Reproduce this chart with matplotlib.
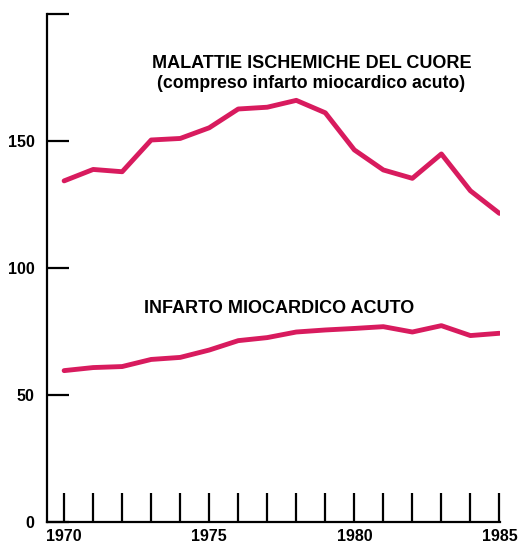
import matplotlib
matplotlib.use("Agg")
import matplotlib.pyplot as plt

years = list(range(1970, 1986))
ischemiche = [134.3, 138.8, 137.9, 150.4, 151.0, 155.2, 162.6, 163.3, 166.0,
              161.1, 146.5, 138.6, 135.3, 144.9, 130.4, 121.5]
infarto = [59.6, 60.8, 61.2, 64.0, 64.8, 67.7, 71.4, 72.6, 74.8,
           75.6, 76.2, 76.9, 74.8, 77.3, 73.4, 74.3]
yticks = [0, 50, 100, 150, 200]
ytick_labels = ["0", "50", "100", "150", ""]
xtick_labels = ["1970", "", "", "", "", "1975", "", "", "", "", "1980", "", "", "", "", "1985"]

plt.rcParams['font.family'] = ['Liberation Sans', 'DejaVu Sans']

fig = plt.figure(figsize=(5.2, 5.46), dpi=100)
ax = fig.add_axes([47/520, 24/546, 453/520, 508/546])

color = "#d81b5e"
ax.plot(years, ischemiche, color=color, lw=3.5, solid_joinstyle='round', solid_capstyle='round')
ax.plot(years, infarto, color=color, lw=3.5, solid_joinstyle='round', solid_capstyle='round')

ax.set_xlim(1969.41, 1985.02)
ax.set_ylim(0, 200)
ax.spines['top'].set_visible(False)
ax.spines['right'].set_visible(False)
for s in ['left', 'bottom']:
    ax.spines[s].set_linewidth(1.6)

ax.set_yticks(yticks)
ax.set_yticklabels(ytick_labels, fontsize=11.5, fontweight='bold')
ax.set_xticks(years)
ax.set_xticklabels(xtick_labels, fontsize=11.5, fontweight='bold')
ax.tick_params(axis='y', direction='in', length=16, width=1.6, pad=9)
ax.tick_params(axis='x', direction='in', length=21, width=1.6, pad=5)

ax.text(1978.55, 180.5, "MALATTIE ISCHEMICHE DEL CUORE", ha='center', va='center',
        fontsize=13, fontweight='bold', color='black')
ax.text(1978.5, 172.8, "(compreso infarto miocardico acuto)", ha='center', va='center',
        fontsize=12.7, fontweight='bold', color='black')
ax.text(1977.4, 84.0, "INFARTO MIOCARDICO ACUTO", ha='center', va='center',
        fontsize=13, fontweight='bold', color='black')

fig.savefig("out.png", dpi=100)
